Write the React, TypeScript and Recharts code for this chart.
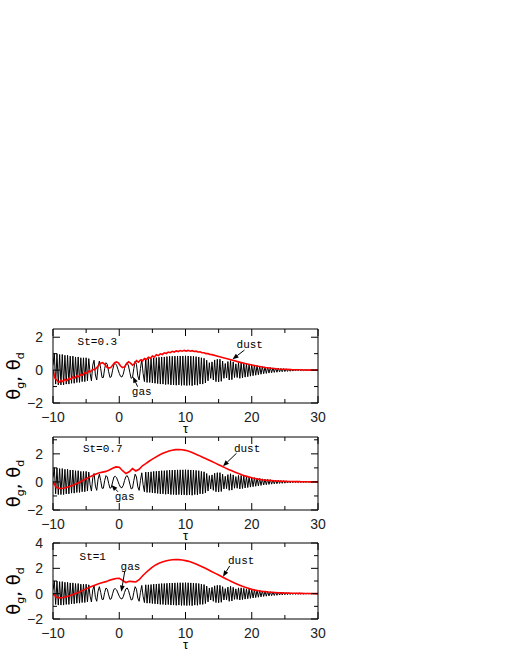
import React from 'react';
import { LineChart, Line, XAxis, YAxis, ReferenceLine, ReferenceDot } from 'recharts';

// ---------- data ----------
const tauGas: number[] = Array.from({ length: 201 }, (_, i) => Math.round((-10 + 0.2 * i) * 10) / 10);
const gasTheta: number[] = [
  0.3, 1.0, -0.85, 1.0, -0.9, 0.95, -0.9, 0.95, -0.9, 0.9,
  -0.85, 0.9, -0.85, 0.85, -0.8, 0.85, -0.8, 0.8, -0.75, 0.8,
  -0.75, 0.75, -0.7, 0.75, -0.7, 0.75, -0.65, 0.7, -0.2, -0.65,
  0.3, 0.6, -0.3, -0.6, 0.2, 0.55, 0.1, -0.45, -0.45, 0.1,
  0.45, 0.35, -0.1, -0.45, -0.4, 0.0, 0.35, 0.4, 0.3, 0.05,
  -0.2, -0.38, -0.42, -0.25, 0.1, 0.38, 0.45, 0.25, -0.15, -0.5,
  -0.45, 0.1, 0.55, 0.35, -0.35, -0.6, 0.1, 0.65, -0.2, -0.7,
  0.7, -0.75, 0.7, -0.75, 0.72, -0.78, 0.75, -0.8, 0.76, -0.82,
  0.78, -0.85, 0.8, -0.85, 0.8, -0.88, 0.82, -0.86, 0.84, -0.9,
  0.84, -0.9, 0.85, -0.92, 0.86, -0.9, 0.86, -0.93, 0.86, -0.92,
  0.87, -0.94, 0.86, -0.92, 0.85, -0.95, 0.84, -0.9, 0.82, -0.92,
  0.8, -0.85, 0.75, -0.85, 0.72, -0.78, 0.6, -0.65, 0.45, -0.5,
  0.5, -0.6, 0.62, -0.7, 0.66, -0.72, 0.66, -0.68, 0.55, -0.5,
  0.4, -0.48, 0.52, -0.6, 0.58, -0.58, 0.5, -0.45, 0.38, -0.45,
  0.46, -0.5, 0.46, -0.47, 0.42, -0.43, 0.38, -0.4, 0.36, -0.37,
  0.34, -0.34, 0.3, -0.31, 0.28, -0.28, 0.25, -0.25, 0.22, -0.22,
  0.2, -0.2, 0.18, -0.18, 0.16, -0.16, 0.14, -0.14, 0.13, -0.13,
  0.12, -0.11, 0.1, -0.1, 0.09, -0.09, 0.08, -0.08, 0.07, -0.07,
  0.06, -0.06, 0.05, -0.05, 0.04, -0.04, 0.04, -0.03, 0.03, -0.03,
  0.02, -0.02, 0.02, -0.01, 0.01, -0.01, 0.01, 0, 0, 0,
  0,
];

const tauDust1: number[] = [
  ...Array.from({ length: 81 }, (_, j) => Math.round((-10 + 0.3 * j) * 10) / 10),
  15, 16, 17, 18, 19, 20, 21, 22, 23, 24, 25, 26, 27, 28, 29, 30,
];
const dust1Theta: number[] = [
  0.0, -0.5, -0.62, -0.75, -0.62, -0.7, -0.56, -0.64, -0.5, -0.56,
  -0.42, -0.48, -0.34, -0.4, -0.26, -0.3, -0.16, -0.2, -0.06, -0.08,
  0.05, 0.02, 0.15, 0.3, 0.42, 0.45, 0.35, 0.2, 0.12, 0.15,
  0.3, 0.45, 0.5, 0.42, 0.25, 0.15, 0.2, 0.38, 0.5, 0.42,
  0.3, 0.4, 0.58, 0.48, 0.62, 0.55, 0.7, 0.64, 0.78, 0.72,
  0.86, 0.8, 0.93, 0.88, 0.99, 0.95, 1.05, 1.01, 1.1, 1.06,
  1.14, 1.1, 1.17, 1.13, 1.19, 1.15, 1.2, 1.16, 1.2, 1.15,
  1.18, 1.13, 1.15, 1.1, 1.11, 1.06, 1.06, 1.0, 1.0, 0.95,
  0.94,
  0.83, 0.72, 0.62, 0.5, 0.4, 0.31, 0.23, 0.16, 0.11, 0.07, 0.05, 0.03, 0.02, 0.01, 0.0, 0.0,
];

const tauDust: number[] = Array.from({ length: 81 }, (_, i) => -10 + 0.5 * i);
const dust2Theta: number[] = [
  0.0, -0.38, -0.47, -0.45, -0.4, -0.32, -0.23, -0.13, -0.02, 0.1,
  0.22, 0.34, 0.46, 0.56, 0.65, 0.7, 0.75, 0.85, 0.97, 1.07,
  1.05, 0.8, 0.6, 0.72, 0.95, 0.78, 0.9, 1.15, 1.3, 1.47,
  1.62, 1.77, 1.9, 2.02, 2.12, 2.2, 2.26, 2.3, 2.31, 2.29,
  2.25, 2.18, 2.09, 1.99, 1.89, 1.78, 1.67, 1.56, 1.45, 1.34,
  1.23, 1.12, 1.0, 0.89, 0.79, 0.69, 0.6, 0.51, 0.43, 0.36,
  0.3, 0.25, 0.2, 0.16, 0.13, 0.11, 0.09, 0.07, 0.06, 0.05,
  0.04, 0.03, 0.03, 0.02, 0.02, 0.01, 0.01, 0.01, 0.0, 0.0,
  0.0,
];
const dust3Theta: number[] = [
  0.0, -0.28, -0.33, -0.3, -0.24, -0.16, -0.07, 0.03, 0.14, 0.26,
  0.38, 0.5, 0.6, 0.7, 0.8, 0.88, 0.95, 1.05, 1.13, 1.2,
  1.22, 1.05, 0.88, 0.98, 0.95, 0.92, 1.1, 1.4, 1.65, 1.88,
  2.1, 2.27, 2.4, 2.5, 2.58, 2.64, 2.68, 2.7, 2.69, 2.66,
  2.61, 2.55, 2.46, 2.36, 2.25, 2.13, 2.0, 1.87, 1.73, 1.6,
  1.47, 1.34, 1.2, 1.07, 0.94, 0.82, 0.71, 0.6, 0.5, 0.42,
  0.34, 0.28, 0.23, 0.19, 0.16, 0.13, 0.11, 0.09, 0.07, 0.06,
  0.05, 0.04, 0.03, 0.03, 0.02, 0.02, 0.01, 0.01, 0.01, 0.0,
  0.0,
];

const xTicks: number[] = [-10, -5, 0, 5, 10, 15, 20, 25, 30];
const xLabelTicks: number[] = [-10, 0, 10, 20, 30];

// ---------- panel config ----------
type Pt = [number, number];
interface PanelCfg {
  st: string;
  dustT: number[];
  dustV: number[];
  yDomain: [number, number];
  yTicks: number[];
  yLabelTicks: number[];
  plotTop: number;
  plotH: number;
  stPos: Pt;
  dustPos: Pt;
  dustArrow: [Pt, Pt];
  gasPos: Pt;
  gasArrow: [Pt, Pt];
}

const panels: PanelCfg[] = [
  {
    st: 'St=0.3', dustT: tauDust1, dustV: dust1Theta,
    yDomain: [-2, 2.5], yTicks: [-2, -1, 0, 1, 2], yLabelTicks: [-2, 0, 2],
    plotTop: 329, plotH: 74,
    stPos: [-3.3, 1.73], dustPos: [19.7, 1.53], dustArrow: [[18.9, 1.22], [17.1, 0.66]],
    gasPos: [3.4, -1.31], gasArrow: [[2.78, -1.01], [2.08, -0.4]],
  },
  {
    st: 'St=0.7', dustT: tauDust, dustV: dust2Theta,
    yDomain: [-2, 3.2], yTicks: [-2, -1, 0, 1, 2, 3], yLabelTicks: [-2, 0, 2],
    plotTop: 437, plotH: 73,
    stPos: [-2.5, 2.34], dustPos: [19.3, 2.34], dustArrow: [[17.7, 2.04], [15.66, 1.12]],
    gasPos: [0.82, -1.05], gasArrow: [[-0.19, -0.7], [-1.18, -0.22]],
  },
  {
    st: 'St=1', dustT: tauDust, dustV: dust3Theta,
    yDomain: [-2, 4], yTicks: [-2, -1, 0, 1, 2, 3, 4], yLabelTicks: [-2, 0, 2, 4],
    plotTop: 543, plotH: 76,
    stPos: [-4.0, 2.92], dustPos: [18.4, 2.6], dustArrow: [[16.67, 2.19], [15.66, 1.34]],
    gasPos: [1.7, 2.13], gasArrow: [[0.82, 1.74], [0.32, 0.16]],
  },
];

// ---------- helpers ----------
const TICK_FONT = "'Liberation Sans', Arial, sans-serif";
const MONO = "'Liberation Mono', 'Courier New', monospace";
const fmt = (v: number) => (v < 0 ? '\u2212' + Math.abs(v) : String(v));

const BottomTick = (props: any) => {
  const { x, y, payload } = props;
  const v = payload.value;
  const major = xLabelTicks.includes(v);
  const len = major ? 7 : 4;
  return (
    <g>
      <line x1={x} y1={y} x2={x} y2={y - len} stroke="#000" strokeWidth={1} />
      {major && (
        <text x={x} y={y + 14} textAnchor="middle" dominantBaseline="central" fontFamily={TICK_FONT} fontSize={14} fill="#222">
          {fmt(v)}
        </text>
      )}
    </g>
  );
};

const TopTick = (props: any) => {
  const { x, y, payload } = props;
  const major = xLabelTicks.includes(payload.value);
  const len = major ? 7 : 4;
  return <line x1={x} y1={y} x2={x} y2={y + len} stroke="#000" strokeWidth={1} />;
};

const makeLeftTick = (labels: number[]) => (props: any) => {
  const { x, y, payload } = props;
  const v = payload.value;
  const major = labels.includes(v);
  const len = major ? 7 : 4;
  return (
    <g>
      <line x1={x} y1={y} x2={x + len} y2={y} stroke="#000" strokeWidth={1} />
      {major && (
        <text x={x - 10} y={y} textAnchor="end" dominantBaseline="central" fontFamily={TICK_FONT} fontSize={14} fill="#222">
          {fmt(v)}
        </text>
      )}
    </g>
  );
};

const makeRightTick = (labels: number[]) => (props: any) => {
  const { x, y, payload } = props;
  const major = labels.includes(payload.value);
  const len = major ? 7 : 4;
  return <line x1={x} y1={y} x2={x - len} y2={y} stroke="#000" strokeWidth={1} />;
};

const XLabel = (props: any) => {
  const vb = props.viewBox || {};
  const cx = vb.x + vb.width / 2;
  return (
    <text x={cx} y={vb.y + 30} textAnchor="middle" fontFamily={TICK_FONT} fontSize={13} fill="#000">
      τ
    </text>
  );
};

const YLabel = (props: any) => {
  const vb = props.viewBox || {};
  const cx = vb.x + 20;
  const cy = vb.y + vb.height / 2 + 10;
  return (
    <text
      x={cx}
      y={cy}
      transform={`rotate(-90 ${cx} ${cy})`}
      textAnchor="middle"
      fontFamily="'DejaVu Sans', sans-serif"
      fontSize={18}
      fill="#000"
    >
      <tspan>θ</tspan>
      <tspan fontSize={11} dy={4}>g</tspan>
      <tspan dy={-4}>, θ</tspan>
      <tspan fontSize={11} dy={4}>d</tspan>
    </text>
  );
};

const ArrowShape = (props: any) => {
  const { x1, y1, x2, y2 } = props;
  if ([x1, y1, x2, y2].some((v) => typeof v !== 'number' || isNaN(v))) return <g />;
  const ang = Math.atan2(y2 - y1, x2 - x1);
  const L = 6;
  const W = 2.4;
  const bx = x2 - L * Math.cos(ang);
  const by = y2 - L * Math.sin(ang);
  const px = -Math.sin(ang) * W;
  const py = Math.cos(ang) * W;
  return (
    <g>
      <line x1={x1} y1={y1} x2={bx} y2={by} stroke="#000" strokeWidth={1} />
      <polygon points={`${x2},${y2} ${bx + px},${by + py} ${bx - px},${by - py}`} fill="#000" />
    </g>
  );
};

const makeTextShape = (txt: string) => (props: any) => (
  <text x={props.cx} y={props.cy} textAnchor="middle" dominantBaseline="central" fontFamily={MONO} fontSize={11} fill="#000">
    {txt}
  </text>
);

const TOP_PAD = 12;

function Panel({ p }: { p: PanelCfg }) {
  const gasData = tauGas.map((t, i) => ({ t, v: gasTheta[i] }));
  const dustData = p.dustT.map((t, i) => ({ t, v: p.dustV[i] }));
  return (
    <div style={{ position: 'absolute', left: 0, top: p.plotTop - TOP_PAD }}>
      <LineChart width={510} height={p.plotH + TOP_PAD + 38} margin={{ top: TOP_PAD - 1, right: 191, bottom: 8, left: 0 }}>
        <XAxis
          xAxisId="b" type="number" dataKey="t" domain={[-10, 30]} ticks={xTicks} interval={0}
          tickSize={0} tickMargin={0} tickLine={false} axisLine={{ stroke: '#000' }} height={30}
          tick={BottomTick} label={XLabel} allowDataOverflow
        />
        <XAxis
          xAxisId="t" orientation="top" type="number" dataKey="t" domain={[-10, 30]} ticks={xTicks} interval={0}
          tickSize={0} tickMargin={0} tickLine={false} axisLine={{ stroke: '#000' }} height={1}
          tick={TopTick} allowDataOverflow
        />
        <YAxis
          yAxisId="l" type="number" domain={p.yDomain} ticks={p.yTicks} interval={0}
          tickSize={0} tickMargin={0} tickLine={false} axisLine={{ stroke: '#000' }} width={53}
          tick={makeLeftTick(p.yLabelTicks)} label={YLabel} allowDataOverflow
        />
        <YAxis
          yAxisId="r" orientation="right" type="number" domain={p.yDomain} ticks={p.yTicks} interval={0}
          tickSize={0} tickMargin={0} tickLine={false} axisLine={{ stroke: '#000' }} width={1}
          tick={makeRightTick(p.yLabelTicks)} allowDataOverflow
        />
        <Line xAxisId="t" yAxisId="r" data={dustData} dataKey="v" type="linear" stroke="none" strokeWidth={0} dot={false} activeDot={false} legendType="none" isAnimationActive={false} />
        <Line xAxisId="b" yAxisId="l" data={gasData} dataKey="v" type="linear" stroke="#000" strokeWidth={1} dot={false} isAnimationActive={false} />
        <Line xAxisId="b" yAxisId="l" data={dustData} dataKey="v" type="linear" stroke="#ff0000" strokeWidth={1.6} dot={false} isAnimationActive={false} />
        <ReferenceLine
          xAxisId="b" yAxisId="l" ifOverflow="visible"
          segment={[{ x: p.dustArrow[0][0], y: p.dustArrow[0][1] }, { x: p.dustArrow[1][0], y: p.dustArrow[1][1] }]}
          shape={ArrowShape}
        />
        <ReferenceLine
          xAxisId="b" yAxisId="l" ifOverflow="visible"
          segment={[{ x: p.gasArrow[0][0], y: p.gasArrow[0][1] }, { x: p.gasArrow[1][0], y: p.gasArrow[1][1] }]}
          shape={ArrowShape}
        />
        <ReferenceDot xAxisId="b" yAxisId="l" x={p.stPos[0]} y={p.stPos[1]} r={0} ifOverflow="visible" shape={makeTextShape(p.st)} />
        <ReferenceDot xAxisId="b" yAxisId="l" x={p.dustPos[0]} y={p.dustPos[1]} r={0} ifOverflow="visible" shape={makeTextShape('dust')} />
        <ReferenceDot xAxisId="b" yAxisId="l" x={p.gasPos[0]} y={p.gasPos[1]} r={0} ifOverflow="visible" shape={makeTextShape('gas')} />
      </LineChart>
    </div>
  );
}

export default function App() {
  return (
    <div style={{ position: 'absolute', left: 0, top: 0, width: 510, height: 660, background: '#fff' }}>
      {panels.map((p) => (
        <Panel key={p.st} p={p} />
      ))}
    </div>
  );
}
